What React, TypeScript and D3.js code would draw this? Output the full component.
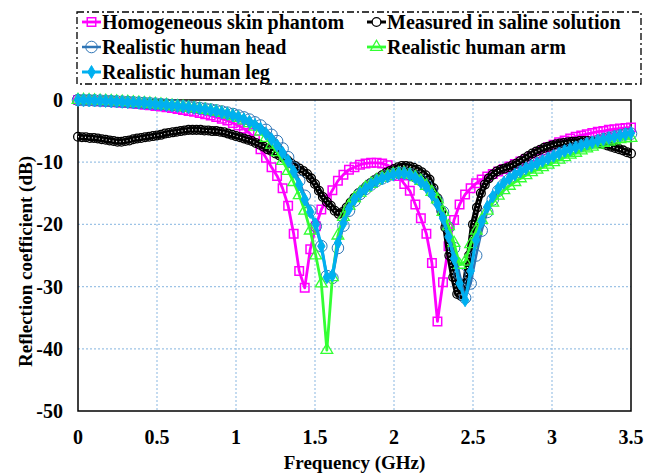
import React from 'react';
import * as d3 from 'd3';

const freqSim = d3.range(101).map((i) => +(i * 0.035).toFixed(3));
const freqMeas = d3.range(141).map((i) => +(i * 0.025).toFixed(3));

const homogeneous = [
  0, -0.05, -0.1, -0.15, -0.2, -0.25, -0.3, -0.35, -0.4, -0.5,
  -0.55, -0.65, -0.75, -0.85, -0.95, -1.05, -1.15, -1.3, -1.45, -1.6,
  -1.75, -1.9, -2.1, -2.3, -2.5, -2.75, -3.0, -3.3, -3.7, -4.1,
  -4.6, -5.3, -6.3, -7.9, -9.3, -10.8, -12.2, -14.2, -17.0, -21.5,
  -27.5, -30.2, -24.0, -20.3, -17.6, -16.0, -14.5, -13.0, -12.0, -11.2,
  -10.8, -10.4, -10.2, -10.1, -10.1, -10.2, -10.5, -11.2, -12.2, -13.5,
  -14.6, -16.8, -19.0, -21.5, -26.2, -35.6, -29.3, -23.5, -19.3, -16.8,
  -15.2, -14.2, -13.4, -12.8, -12.3, -11.9, -11.5, -11.1, -10.7, -10.3,
  -9.9, -9.5, -9.1, -8.6, -8.1, -7.6, -7.2, -6.8, -6.5, -6.2,
  -5.9, -5.7, -5.5, -5.3, -5.1, -5.0, -4.8, -4.7, -4.6, -4.5,
  -4.4,
];

const measured = [
  -5.9, -6.0, -6.0, -6.1, -6.1, -6.2, -6.3, -6.4, -6.5, -6.6,
  -6.7, -6.7, -6.6, -6.5, -6.3, -6.2, -6.1, -6.0, -5.9, -5.8,
  -5.7, -5.6, -5.4, -5.3, -5.2, -5.1, -5.0, -4.9, -4.8, -4.8,
  -4.8, -4.8, -4.9, -4.9, -5.0, -5.0, -5.1, -5.2, -5.4, -5.6,
  -5.8, -6.0, -6.2, -6.4, -6.6, -6.9, -7.2, -7.5, -7.9, -8.2,
  -8.6, -8.9, -9.3, -9.7, -10.2, -10.6, -11.0, -11.4, -11.9, -12.6,
  -13.5, -14.6, -15.6, -16.4, -17.0, -17.8, -18.3, -18.0, -17.3, -16.5,
  -15.7, -15.0, -14.5, -13.9, -13.4, -12.9, -12.5, -12.1, -11.7, -11.4,
  -11.1, -10.8, -10.6, -10.6, -10.7, -10.9, -11.2, -11.6, -12.1, -12.8,
  -14.2, -15.8, -17.8, -20.5, -25.0, -28.5, -31.2, -31.5, -29.5, -25.0,
  -20.0, -17.3, -15.0, -13.6, -12.6, -12.0, -11.5, -11.2, -11.0, -10.8,
  -10.5, -10.2, -9.8, -9.4, -9.0, -8.6, -8.3, -8.0, -7.7, -7.5,
  -7.3, -7.1, -7.0, -6.9, -6.8, -6.7, -6.7, -6.6, -6.6, -6.6,
  -6.7, -6.8, -6.9, -7.1, -7.3, -7.5, -7.7, -7.9, -8.1, -8.4,
  -8.6,
];

const head = [
  0, -0.02, -0.04, -0.07, -0.1, -0.14, -0.18, -0.22, -0.27, -0.32,
  -0.37, -0.42, -0.47, -0.53, -0.6, -0.67, -0.74, -0.82, -0.9, -0.99,
  -1.08, -1.18, -1.29, -1.4, -1.53, -1.67, -1.84, -2.03, -2.25, -2.5,
  -2.8, -3.15, -3.6, -4.1, -4.8, -5.6, -6.6, -7.8, -9.2, -10.9,
  -13.0, -15.4, -17.8, -20.3, -23.5, -28.3, -28.6, -23.8, -20.2, -17.8,
  -16.2, -15.1, -14.3, -13.6, -13.0, -12.6, -12.2, -11.9, -11.7, -11.7,
  -11.9, -12.3, -12.9, -13.7, -14.8, -16.2, -18.0, -20.5, -23.8, -28.0,
  -31.8, -29.5, -25.0, -21.0, -18.0, -16.0, -14.6, -13.6, -12.8, -12.2,
  -11.6, -11.1, -10.7, -10.3, -9.9, -9.5, -9.1, -8.7, -8.3, -8.0,
  -7.7, -7.4, -7.1, -6.8, -6.6, -6.3, -6.1, -5.9, -5.7, -5.5,
  -5.4,
];

const arm = [
  0, -0.02, -0.05, -0.08, -0.12, -0.16, -0.2, -0.25, -0.3, -0.35,
  -0.4, -0.46, -0.52, -0.59, -0.67, -0.75, -0.83, -0.92, -1.01, -1.11,
  -1.22, -1.33, -1.45, -1.58, -1.73, -1.9, -2.1, -2.33, -2.6, -2.9,
  -3.3, -3.75, -4.3, -5.1, -6.1, -7.2, -8.4, -9.8, -11.4, -13.2,
  -15.3, -17.8, -21.0, -25.0, -29.5, -40.2, -28.5, -21.8, -18.8, -17.0,
  -15.8, -14.9, -14.1, -13.5, -12.9, -12.5, -12.2, -11.9, -11.8, -11.8,
  -12.0, -12.4, -13.0, -13.8, -14.8, -16.0, -18.0, -20.3, -23.0, -26.5,
  -26.0, -23.2, -21.0, -19.3, -17.8, -16.5, -15.4, -14.5, -13.8, -13.2,
  -12.6, -12.1, -11.6, -11.2, -10.8, -10.4, -10.0, -9.6, -9.2, -8.8,
  -8.5, -8.1, -7.8, -7.5, -7.2, -6.9, -6.7, -6.5, -6.3, -6.2,
  -6.1,
];

const leg = [
  0, -0.02, -0.05, -0.08, -0.12, -0.16, -0.2, -0.25, -0.3, -0.35,
  -0.4, -0.45, -0.5, -0.57, -0.65, -0.72, -0.8, -0.88, -0.97, -1.06,
  -1.16, -1.27, -1.38, -1.5, -1.65, -1.8, -2.0, -2.2, -2.45, -2.75,
  -3.1, -3.5, -4.0, -4.6, -5.4, -6.3, -7.3, -8.5, -9.8, -11.5,
  -13.6, -16.0, -18.0, -20.0, -23.5, -28.5, -28.2, -23.0, -19.8, -17.5,
  -16.0, -15.0, -14.3, -13.6, -13.0, -12.6, -12.3, -12.0, -11.8, -11.8,
  -12.0, -12.5, -13.2, -14.0, -15.2, -16.8, -19.0, -22.0, -25.5, -29.5,
  -32.2, -27.5, -22.5, -19.5, -17.2, -15.5, -14.2, -13.3, -12.6, -12.0,
  -11.5, -11.0, -10.6, -10.2, -9.8, -9.4, -9.0, -8.6, -8.2, -7.9,
  -7.6, -7.3, -7.0, -6.8, -6.5, -6.3, -6.1, -5.9, -5.7, -5.5,
  -5.3,
];

const xTicks = [0, 0.5, 1, 1.5, 2, 2.5, 3, 3.5];
const yTicks = [0, -10, -20, -30, -40, -50];

type Series = {
  name: string;
  xs: number[];
  ys: number[];
  color: string;
  lw: number;
  symbol: d3.SymbolType;
  size: number;
  fill: string;
  mw: number;
  dotted?: boolean;
};

const series: Series[] = [
  { name: 'Homogeneous skin phantom', xs: freqSim, ys: homogeneous, color: '#ff00ff', lw: 2.8, symbol: d3.symbolSquare, size: 72, fill: 'none', mw: 1.5 },
  { name: 'Measured in saline solution', xs: freqMeas, ys: measured, color: '#000000', lw: 6, symbol: d3.symbolCircle, size: 60, fill: 'none', mw: 1.3, dotted: true },
  { name: 'Realistic human head', xs: freqSim, ys: head, color: '#2e75b6', lw: 2.5, symbol: d3.symbolCircle, size: 105, fill: 'none', mw: 1 },
  { name: 'Realistic human arm', xs: freqSim, ys: arm, color: '#33ff33', lw: 2.8, symbol: d3.symbolTriangle, size: 60, fill: 'none', mw: 1.3 },
  { name: 'Realistic human leg', xs: freqSim, ys: leg, color: '#00b0f0', lw: 3.2, symbol: d3.symbolDiamond, size: 48, fill: '#00b0f0', mw: 1 },
];

const legendPos = [
  { x: 82, y: 22 },
  { x: 367, y: 22 },
  { x: 82, y: 47 },
  { x: 367, y: 47 },
  { x: 82, y: 72 },
];

const FONT = "'Liberation Serif', 'Times New Roman', serif";

export default function App() {
  const W = 658;
  const H = 474;
  const x = d3.scaleLinear().domain([0, 3.5]).range([78, 631]);
  const y = d3.scaleLinear().domain([-50, 0]).range([411, 100]);

  const line = d3
    .line<[number, number]>()
    .x((d) => x(d[0]))
    .y((d) => y(d[1]));

  return (
    <svg
      width={W}
      height={H}
      style={{ position: 'absolute', left: 0, top: 0, background: '#fff' }}
      fontFamily={FONT}
      fontWeight="bold"
    >
      <rect x={0} y={0} width={W} height={H} fill="#fff" />
      {/* grid */}
      {xTicks.slice(1, -1).map((t) => (
        <line key={'gx' + t} x1={x(t)} x2={x(t)} y1={y(0)} y2={y(-50)} stroke="#9dc3e6" strokeWidth={1.2} strokeDasharray="2,2" />
      ))}
      {yTicks.slice(1, -1).map((t) => (
        <line key={'gy' + t} x1={x(0)} x2={x(3.5)} y1={y(t)} y2={y(t)} stroke="#9dc3e6" strokeWidth={1.2} strokeDasharray="2,2" />
      ))}
      {/* frame */}
      <rect x={x(0)} y={y(0)} width={x(3.5) - x(0)} height={y(-50) - y(0)} fill="none" stroke="#000" strokeWidth={1.5} />
      {/* tick labels */}
      {xTicks.map((t) => (
        <text key={'xt' + t} x={x(t)} y={444} textAnchor="middle" fontSize={20}>
          {String(t)}
        </text>
      ))}
      {yTicks.map((t) => (
        <text key={'yt' + t} x={63} y={y(t) + 7} textAnchor="end" fontSize={20}>
          {String(t)}
        </text>
      ))}
      <text x={(x(0) + x(3.5)) / 2} y={469} textAnchor="middle" fontSize={19}>
        Frequency (GHz)
      </text>
      <text transform={`translate(32, ${(y(0) + y(-50)) / 2 + 6}) rotate(-90)`} textAnchor="middle" fontSize={19}>
        Reflection coefficient (dB)
      </text>
      {/* series */}
      {series.map((s) => {
        const pts: [number, number][] = s.xs.map((f, i) => [f, s.ys[i]]);
        const sym = d3.symbol().type(s.symbol).size(s.size)() || '';
        const d = line(pts) || '';
        return (
          <g key={s.name}>
            <path d={d} fill="none" stroke={s.color} strokeWidth={s.lw} strokeLinejoin="round" />
            {pts.map((p, i) => (
              <path key={i} d={sym} transform={`translate(${x(p[0])},${y(p[1])})`} fill={s.fill} stroke={s.color} strokeWidth={s.mw} />
            ))}
            {s.dotted && (
              <path d={d} fill="none" stroke="#ffffff" strokeWidth={1.2} strokeDasharray="1,2.5" />
            )}
          </g>
        );
      })}
      {/* legend */}
      <rect x={77} y={12} width={564} height={72} fill="#fff" stroke="#000" strokeWidth={1.3} strokeDasharray="7,3,2,3" />
      {series.map((s, i) => {
        const p = legendPos[i];
        const sym = d3.symbol().type(s.symbol).size(s.size)() || '';
        return (
          <g key={'lg' + s.name}>
            <line x1={p.x} x2={p.x + 19} y1={p.y} y2={p.y} stroke={s.color} strokeWidth={Math.min(s.lw, 3)} />
            <path d={sym} transform={`translate(${p.x + 9.5},${p.y})`} fill={s.dotted ? '#fff' : s.fill} stroke={s.color} strokeWidth={s.mw} />
            <text x={p.x + 20} y={p.y + 7} fontSize={20}>
              {s.name}
            </text>
          </g>
        );
      })}
    </svg>
  );
}
